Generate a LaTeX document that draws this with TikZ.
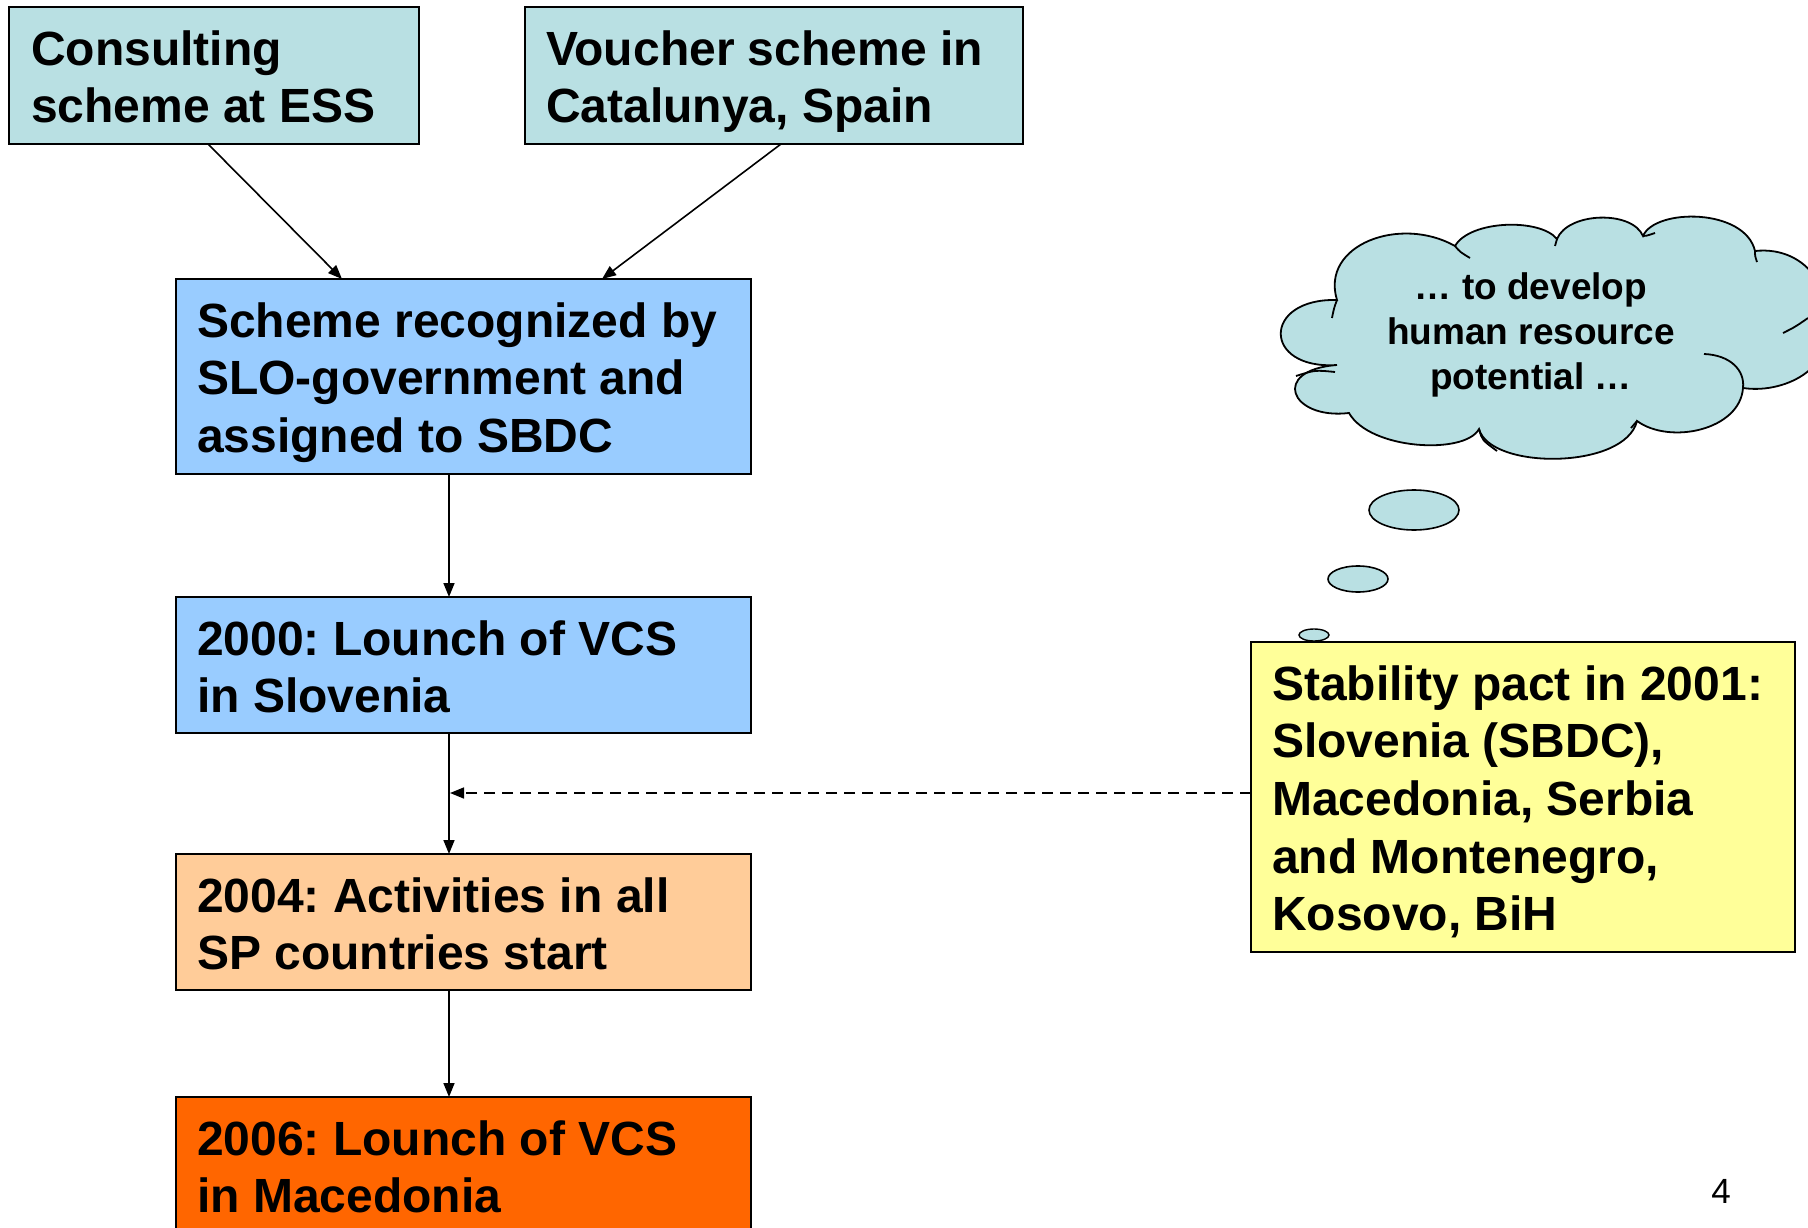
\documentclass[tikz,border=0pt]{standalone}
\usepackage{fontspec}
\setmainfont{Liberation Sans}
\usetikzlibrary{arrows.meta,calc}
\definecolor{teal1}{RGB}{185,224,227}
\definecolor{blue1}{RGB}{153,204,255}
\definecolor{peach}{RGB}{255,204,153}
\definecolor{orange1}{RGB}{255,102,0}
\definecolor{yel}{RGB}{255,255,153}
\frenchspacing
\begin{document}
\begin{tikzpicture}[x=1pt,y=-1pt,
  box/.style={draw=black, line width=2pt, rectangle, inner sep=0pt, outer sep=0pt, anchor=north west},
  txt/.style={anchor=north west, inner sep=0pt, align=left, font=\fontsize{48}{57.7}\selectfont\bfseries},
  conn/.style={line width=1.6pt, -{Triangle[length=14pt,width=11pt]}},
  crease/.style={line width=1.8pt}
]
\clip (0,0) rectangle (1808,1228);
\fill[white] (0,0) rectangle (1808,1228);

% boxes
\node[box, fill=teal1, minimum width=410pt, minimum height=137pt] (b1) at (9,7) {};
\node[box, fill=teal1, minimum width=498pt, minimum height=137pt] (b2) at (525,7) {};
\node[box, fill=blue1, minimum width=575pt, minimum height=195pt] (b3) at (176,279) {};
\node[box, fill=blue1, minimum width=575pt, minimum height=136pt] (b4) at (176,597) {};
\node[box, fill=peach, minimum width=575pt, minimum height=136pt] (b5) at (176,854) {};
\node[box, fill=orange1, minimum width=575pt, minimum height=200pt] (b6) at (176,1097) {};
\node[box, fill=yel, minimum width=544pt, minimum height=310pt] (ys) at (1251,642) {};

% texts
\node[txt] (t1) at ($(b1.north west)+(22,17.6)$) {\strut Consulting\\ \strut scheme at ESS};
\node[txt] (t2) at ($(b2.north west)+(21,17.6)$) {\strut Voucher scheme in\\ \strut Catalunya, Spain};
\node[txt] (t3) at ($(b3.north west)+(21,17.6)$) {\strut Scheme recognized by\\ \strut SLO-government and\\ \strut assigned to SBDC};
\node[txt] (t4) at ($(b4.north west)+(21,17.6)$) {\strut 2000: Lounch of VCS\\ \strut in Slovenia};
\node[txt] (t5) at ($(b5.north west)+(21,17.6)$) {\strut 2004: Activities in all\\ \strut SP countries start};
\node[txt] (t6) at ($(b6.north west)+(21,17.6)$) {\strut 2006: Lounch of VCS\\ \strut in Macedonia};
\node[txt] (t7) at ($(ys.north west)+(21,17.6)$) {\strut Stability pact in 2001:\\ \strut Slovenia (SBDC),\\ \strut Macedonia, Serbia\\ \strut and Montenegro,\\ \strut Kosovo, BiH};

% connectors
\coordinate (ax) at (449,0);
\draw[conn] ($(b1.south west)+(199,0)$) -- ($(b3.north west)+(166,0)$);
\draw[conn] ($(b2.south west)+(256,0)$) -- ($(b3.north west)+(426,0)$);
\draw[conn] (b3.south -| ax) -- (b4.north -| ax);
\draw[conn] (b4.south -| ax) -- (b5.north -| ax);
\draw[conn] (b5.south -| ax) -- (b6.north -| ax);
\coordinate (dm) at (450,793);
\draw[conn, dash pattern=on 11pt off 7pt] (ys.west |- dm) -- (dm);

% thought cloud
\draw[fill=teal1, line width=1.8pt]
  (1337,300) .. controls (1320,245) and (1400,215) .. (1455,246)
  .. controls (1470,220) and (1540,218) .. (1557,239)
  .. controls (1568,212) and (1632,210) .. (1643,236)
  .. controls (1655,208) and (1745,208) .. (1755,251)
  .. controls (1810,245) and (1840,300) .. (1815,330)
  .. controls (1840,360) and (1790,395) .. (1743,388)
  .. controls (1740,430) and (1670,445) .. (1637,421)
  .. controls (1625,470) and (1490,470) .. (1479,429)
  .. controls (1465,455) and (1370,450) .. (1349,413)
  .. controls (1290,420) and (1270,370) .. (1337,365)
  .. controls (1262,370) and (1262,298) .. (1337,300) -- cycle;
\draw[crease] (1704,354) .. controls (1730,355) and (1745,370) .. (1743,388);
\draw[crease] (1335,372) .. controls (1315,370) .. (1296,376);
\draw[crease] (1479,429) .. controls (1482,440) .. (1497,451);
\draw[crease] (1637,421) .. controls (1634,424) .. (1631,428);
\draw[crease] (1455,246) .. controls (1460,252) .. (1470,258);
\draw[crease] (1557,239) .. controls (1556,243) .. (1555,246);
\draw[crease] (1643,236) .. controls (1646,236) .. (1655,233);
\draw[crease] (1755,251) .. controls (1755,256) .. (1757,262);
\draw[crease] (1783,333) .. controls (1795,327) .. (1808,318);
\draw[crease] (1337,300) .. controls (1334,308) .. (1332,318);
\node[inner sep=0pt, align=center, font=\fontsize{37}{45}\selectfont\bfseries] (ct) at (1531,335)
  {\strut … to develop\\ \strut human resource\\ \strut potential …};

% bubbles
\draw[fill=teal1, line width=1.6pt] (1414,510) ellipse [x radius=45pt, y radius=20pt];
\draw[fill=teal1, line width=1.6pt] (1358,579) ellipse [x radius=30pt, y radius=13pt];
\draw[fill=teal1, line width=1.4pt] (1314,635) ellipse [x radius=15pt, y radius=6pt];

% page number
\node[inner sep=0pt, font=\fontsize{35}{42}\selectfont] (pn) at (1721,1191) {4};
\end{tikzpicture}
\end{document}
